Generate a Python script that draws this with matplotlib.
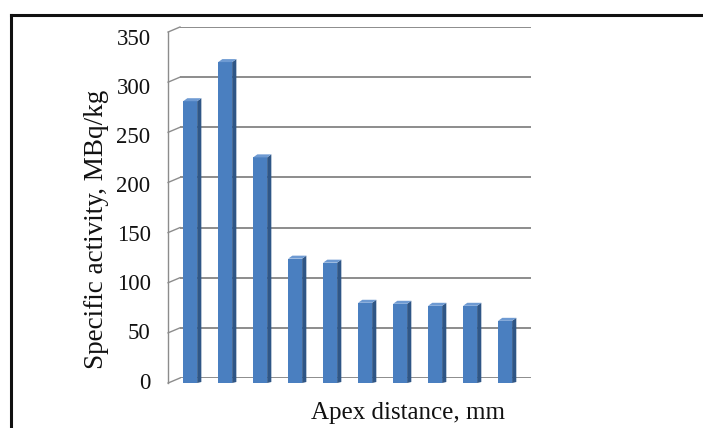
import numpy as np
import matplotlib
matplotlib.use("Agg")
import matplotlib.pyplot as plt
from matplotlib.patches import Polygon
from matplotlib.lines import Line2D

# values
activity = [281, 320, 225, 124, 120, 80, 79, 77, 77, 62]
yticks = [0, 50, 100, 150, 200, 250, 300, 350]
ylabel = "Specific activity, MBq/kg"
xlabel = "Apex distance, mm"

# look of the fake 3d excel columns
FRONT = "#4A7FC0"
SIDE = "#2F5686"
TOP = "#6E9AD2"
GRID = "#8C8C8C"
BAR_W = 0.40      # front face width (x units)
SIDE_DX = 0.12    # depth of the side face
SIDE_DY = 3.0
BASE = -5.0       # front plane sits a little lower than the back wall
FRONT_DX = -0.34  # front axis offset from the back wall

plt.rcParams["font.family"] = ["Liberation Serif", "DejaVu Serif"]

fig = plt.figure(figsize=(7.03, 4.28), dpi=100)
ax = fig.add_axes([180 / 703, (428 - 378) / 428, 351 / 703, 351 / 428])
ax.set_xlim(-0.29, 9.74)
ax.set_ylim(0, 350)
ax.axis("off")

# back wall gridlines
for v in yticks:
    ax.plot([-0.29, 9.74], [v, v], color=GRID, lw=1.4, solid_capstyle="butt")
    # slanted tick from the front axis to the back wall
    ax.plot([-0.29 + FRONT_DX, -0.29], [v + BASE, v], color=GRID, lw=1.0, clip_on=False)

# front vertical axis
ax.plot([-0.29 + FRONT_DX] * 2, [BASE, yticks[-1] + BASE], color=GRID, lw=1.0, clip_on=False)

# tick labels
for v in yticks:
    ax.text(-0.29 + FRONT_DX - 0.5, v + BASE - 0.02 * v, str(v), ha="right", va="center",
            fontsize=16.5, color="#111111", clip_on=False)

# columns
x = np.arange(len(activity))
bars = ax.bar(x, activity, width=BAR_W, bottom=BASE, color=FRONT, edgecolor="none", zorder=3)
for b in bars:
    b.set_clip_on(False)
for xi, h in zip(x, activity):
    top = BASE + h
    r = xi + BAR_W / 2
    l = xi - BAR_W / 2
    side = Polygon([[r, BASE], [r + SIDE_DX, BASE + 1.0], [r + SIDE_DX, top + SIDE_DY], [r, top]],
                   closed=True, facecolor=SIDE, edgecolor="none", zorder=3, clip_on=False)
    cap = Polygon([[l, top], [r, top], [r + SIDE_DX, top + SIDE_DY], [l + SIDE_DX, top + SIDE_DY]],
                  closed=True, facecolor=TOP, edgecolor="none", zorder=4, clip_on=False)
    ax.add_patch(side)
    ax.add_patch(cap)

fig.text(97 / 703, 1 - 229 / 428, ylabel, rotation=90, ha="center", va="center",
         fontsize=19.5, color="#111111")
fig.text(408 / 703, 1 - 413 / 428, xlabel, ha="center", va="center",
         fontsize=18, color="#111111")

# frame around the picture (left and top edges only are visible)
fig.add_artist(Line2D([11 / 703, 11 / 703], [0, 1 - 15 / 428], color="#111111", lw=2.2))
fig.add_artist(Line2D([11 / 703, 1], [1 - 15 / 428, 1 - 15 / 428], color="#111111", lw=2.2))

fig.savefig("out.png", dpi=100)
